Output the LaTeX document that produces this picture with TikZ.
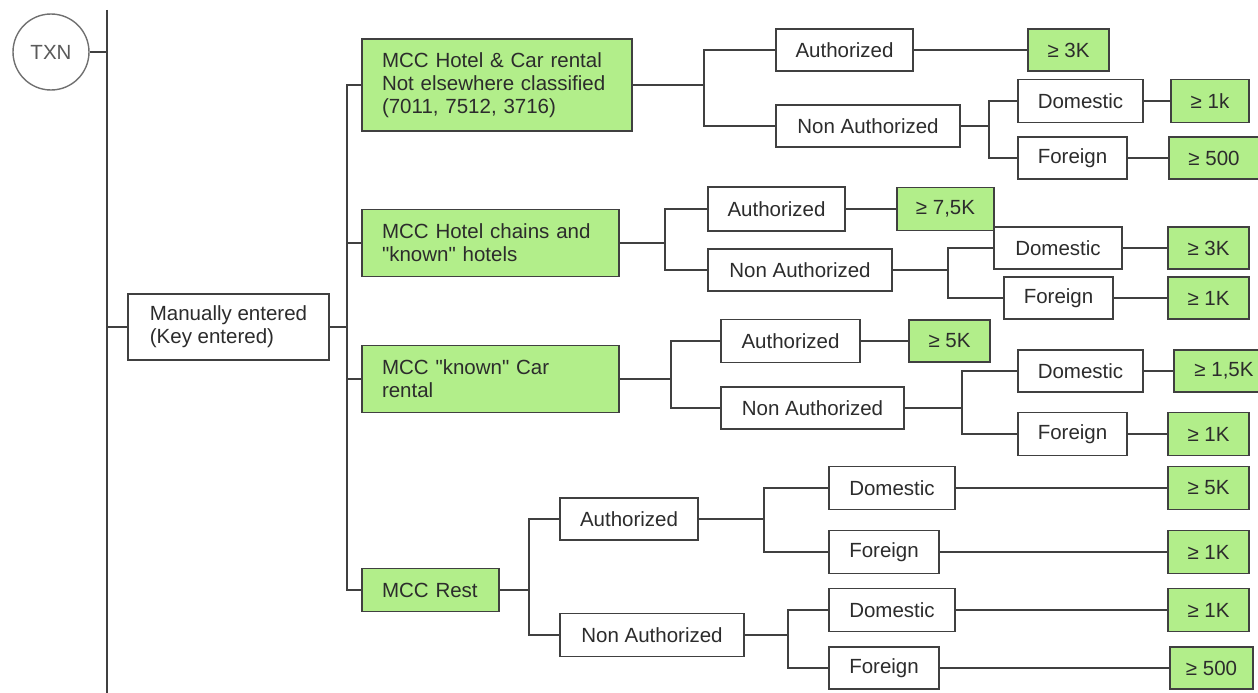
\documentclass[tikz,border=0pt]{standalone}
\usepackage{fontspec}
\setmainfont{Liberation Sans}[Ligatures=TeXOff]
\definecolor{leafgreen}{HTML}{B2EE8A}
\definecolor{ink}{HTML}{2C2C2C}
\definecolor{edge}{HTML}{404040}
\definecolor{ringgray}{HTML}{707070}
\begin{document}
\begin{tikzpicture}[x=1pt,y=-1pt,
  every node/.style={font=\fontsize{20.5}{23.3}\selectfont, text=ink},
  box/.style={draw=edge, line width=1.8pt, rectangle, inner sep=0pt},
  wbox/.style={box, fill=white},
  gbox/.style={box, fill=leafgreen},
  mccbox/.style={gbox, align=left, inner xsep=20pt},
  sz/.style 2 args={minimum width=#1pt, minimum height=#2pt},
  link/.style={draw=edge, line width=1.8pt}]

\useasboundingbox[fill=white] (0,0) rectangle (1258,693);

% root and first level
\node[circle, draw=ringgray, line width=1.4pt, minimum size=76pt, inner sep=0pt, text=ringgray!80!black] (txn) at (51,52) {TXN};
\coordinate (spineTop) at (107,10);
\coordinate (spineBot) at (107,693);
\node[wbox, sz={201}{66}, align=left] (man) at (228.5,327) {Manually entered\\(Key entered)};

% merchant category boxes
\node[mccbox, sz={270}{92}, text width=230pt] (g1) at (497,85) {MCC Hotel \& Car rental\\Not elsewhere classified\\(7011, 7512, 3716)};
\node[mccbox, sz={257}{67}, text width=217pt] (g2) at (490.5,243) {MCC Hotel chains and\\"known" hotels};
\node[mccbox, sz={257}{67}, text width=217pt] (g3) at (490.5,379) {MCC "known" Car\\rental};
\node[mccbox, sz={137}{43}, text width=97pt] (g4) at (430.5,590) {MCC Rest};

% group 1
\node[wbox, sz={137}{42}] (a1) at (844.5,50) {Authorized};
\node[wbox, sz={184}{42}] (n1) at (868,126) {Non Authorized};
\node[gbox, sz={81}{42}] (l1) at (1068.5,50) {≥ 3K};
\node[wbox, sz={125}{43}] (d1) at (1080.5,101) {Domestic};
\node[wbox, sz={109}{42}] (f1) at (1072.5,158) {Foreign};
\node[gbox, sz={78}{43}] (l2) at (1210,101) {≥ 1k};
\node[gbox, sz={90}{42}] (l3) at (1214,158) {≥ 500};

% group 2
\node[wbox, sz={137}{44}] (a2) at (776.5,209) {Authorized};
\node[wbox, sz={184}{42}] (n2) at (800,270) {Non Authorized};
\node[gbox, sz={97}{43}] (l4) at (945.5,209) {≥ 7,5K};
\node[wbox, sz={128}{42}] (d2) at (1058,248) {Domestic};
\node[wbox, sz={109}{42}] (f2) at (1058.5,298) {Foreign};
\node[gbox, sz={81}{42}] (l5) at (1208.5,248) {≥ 3K};
\node[gbox, sz={81}{42}] (l6) at (1208.5,298) {≥ 1K};

% group 3
\node[wbox, sz={139}{43}] (a3) at (790.5,341) {Authorized};
\node[wbox, sz={183}{42}] (n3) at (812.5,408) {Non Authorized};
\node[gbox, sz={81}{42}] (l7) at (949.5,341) {≥ 5K};
\node[wbox, sz={125}{42}] (d3) at (1080.5,371) {Domestic};
\node[wbox, sz={109}{43}] (f3) at (1072.5,434) {Foreign};
\node[gbox, sz={100}{42}] (l8) at (1224,371) {≥ 1,5K};
\node[gbox, sz={81}{43}] (l9) at (1208.5,434) {≥ 1K};

% group 4
\node[wbox, sz={138}{42}] (a4) at (629,519) {Authorized};
\node[wbox, sz={184}{43}] (n4) at (652,635) {Non Authorized};
\node[wbox, sz={126}{43}] (d4) at (892,488) {Domestic};
\node[wbox, sz={110}{43}] (f4) at (884,552) {Foreign};
\node[wbox, sz={126}{43}] (d5) at (892,610) {Domestic};
\node[wbox, sz={110}{42}] (f5) at (884,668) {Foreign};
\node[gbox, sz={81}{43}] (l10) at (1208.5,488) {≥ 5K};
\node[gbox, sz={81}{43}] (l11) at (1208.5,552) {≥ 1K};
\node[gbox, sz={81}{43}] (l12) at (1208.5,610) {≥ 1K};
\node[gbox, sz={83}{42}] (l13) at (1211.5,668) {≥ 500};

% trunk
\draw[link] (spineTop) -- (spineBot);
\draw[link] (txn.east) -- (txn.east -| spineTop);
\draw[link] (man.west -| spineTop) -- (man.west);
\draw[link] (man.east) -- ++(17,0) coordinate (s2);
\draw[link] (s2) |- (g1.west);
\draw[link] (s2) |- (g2.west);
\draw[link] (s2) |- (g3.west);
\draw[link] (s2) |- (g4.west);

% group 1 links
\draw[link] (g1.east) -- ++(71,0) coordinate (j1);
\draw[link] (j1) |- (a1.west);
\draw[link] (j1) |- (n1.west);
\draw[link] (a1.east) -- (a1.east -| l1.west);
\draw[link] (n1.east) -- ++(28,0) coordinate (j2);
\draw[link] (j2) |- (d1.west);
\draw[link] (j2) |- (f1.west);
\draw[link] (d1.east) -- (d1.east -| l2.west);
\draw[link] (f1.east) -- (f1.east -| l3.west);

% group 2 links
\draw[link] (g2.east) -- ++(45,0) coordinate (j3);
\draw[link] (j3) |- (a2.west);
\draw[link] (j3) |- (n2.west);
\draw[link] (a2.east) -- (a2.east -| l4.west);
\draw[link] (n2.east) -- ++(55,0) coordinate (j4);
\draw[link] (j4) |- (d2.west);
\draw[link] (j4) |- (f2.west);
\draw[link] (d2.east) -- (d2.east -| l5.west);
\draw[link] (f2.east) -- (f2.east -| l6.west);

% group 3 links
\draw[link] (g3.east) -- ++(51,0) coordinate (j5);
\draw[link] (j5) |- (a3.west);
\draw[link] (j5) |- (n3.west);
\draw[link] (a3.east) -- (a3.east -| l7.west);
\draw[link] (n3.east) -- ++(57,0) coordinate (j6);
\draw[link] (j6) |- (d3.west);
\draw[link] (j6) |- (f3.west);
\draw[link] (d3.east) -- (d3.east -| l8.west);
\draw[link] (f3.east) -- (f3.east -| l9.west);

% group 4 links
\draw[link] (g4.east) -- ++(29,0) coordinate (j7);
\draw[link] (j7) |- (a4.west);
\draw[link] (j7) |- (n4.west);
\draw[link] (a4.east) -- ++(65,0) coordinate (j8);
\draw[link] (j8) |- (d4.west);
\draw[link] (j8) |- (f4.west);
\draw[link] (n4.east) -- ++(43,0) coordinate (j9);
\draw[link] (j9) |- (d5.west);
\draw[link] (j9) |- (f5.west);
\draw[link] (d4.east) -- (d4.east -| l10.west);
\draw[link] (f4.east) -- (f4.east -| l11.west);
\draw[link] (d5.east) -- (d5.east -| l12.west);
\draw[link] (f5.east) -- (f5.east -| l13.west);
\end{tikzpicture}
\end{document}
